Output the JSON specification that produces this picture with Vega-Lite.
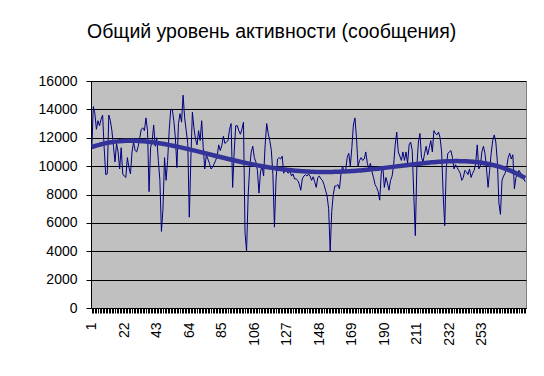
{
  "$schema": "https://vega.github.io/schema/vega-lite/v6.json",
  "width": 435,
  "height": 227,
  "autosize": "none",
  "padding": {"left": 91, "top": 81, "right": 18, "bottom": 68},
  "background": "white",
  "title": {
    "text": "Общий уровень активности (сообщения)",
    "font": "Liberation Sans",
    "fontSize": 19.5,
    "fontWeight": "normal",
    "color": "black",
    "anchor": "start",
    "frame": "group",
    "dx": -4,
    "baseline": "bottom",
    "offset": 13
  },
  "config": {
    "view": {"fill": "#C0C0C0", "stroke": "#808080", "strokeWidth": 1},
    "axis": {"labelFont": "Liberation Sans", "labelFontSize": 14, "labelColor": "black", "domainColor": "black", "tickColor": "black", "title": null, "labelOverlap": false}
  },
  "data": {"values": [
    {"i":1,"v":11200},{"i":2,"v":14200},{"i":3,"v":13700},{"i":4,"v":12600},{"i":5,"v":13200},{"i":6,"v":12850},{"i":7,"v":13300},{"i":8,"v":13600},{"i":9,"v":11300},{"i":10,"v":9400},
    {"i":11,"v":9450},{"i":12,"v":13600},{"i":13,"v":13200},{"i":14,"v":12500},{"i":15,"v":11400},{"i":16,"v":10300},{"i":17,"v":11600},{"i":18,"v":11000},{"i":19,"v":9800},{"i":20,"v":11300},
    {"i":21,"v":9450},{"i":22,"v":9300},{"i":23,"v":9200},{"i":24,"v":10600},{"i":25,"v":9900},{"i":26,"v":9450},{"i":27,"v":11000},{"i":28,"v":11700},{"i":29,"v":11100},{"i":30,"v":11000},
    {"i":31,"v":11400},{"i":32,"v":12000},{"i":33,"v":12600},{"i":34,"v":12700},{"i":35,"v":12500},{"i":36,"v":13400},{"i":37,"v":12500},{"i":38,"v":8200},{"i":39,"v":11300},{"i":40,"v":11800},
    {"i":41,"v":12900},{"i":42,"v":11400},{"i":43,"v":12000},{"i":44,"v":10400},{"i":45,"v":9000},{"i":46,"v":5400},{"i":47,"v":7000},{"i":48,"v":10600},{"i":49,"v":9000},{"i":50,"v":10400},
    {"i":51,"v":12500},{"i":52,"v":14000},{"i":53,"v":14000},{"i":54,"v":13200},{"i":55,"v":12000},{"i":56,"v":9900},{"i":57,"v":13000},{"i":58,"v":13700},{"i":59,"v":13100},{"i":60,"v":15000},
    {"i":61,"v":13400},{"i":62,"v":12500},{"i":63,"v":11600},{"i":64,"v":6400},{"i":65,"v":10500},{"i":66,"v":13800},{"i":67,"v":12700},{"i":68,"v":11900},{"i":69,"v":11500},{"i":70,"v":12500},
    {"i":71,"v":11800},{"i":72,"v":13200},{"i":73,"v":11300},{"i":74,"v":9800},{"i":75,"v":10800},{"i":76,"v":10500},{"i":77,"v":10200},{"i":78,"v":9800},{"i":79,"v":9900},{"i":80,"v":10150},
    {"i":81,"v":10400},{"i":82,"v":10700},{"i":83,"v":11500},{"i":84,"v":11100},{"i":85,"v":11450},{"i":86,"v":12100},{"i":87,"v":11600},{"i":88,"v":11700},{"i":89,"v":11800},{"i":90,"v":12600},
    {"i":91,"v":13000},{"i":92,"v":8500},{"i":93,"v":11000},{"i":94,"v":12850},{"i":95,"v":12850},{"i":96,"v":12500},{"i":97,"v":12250},{"i":98,"v":12600},{"i":99,"v":13100},{"i":100,"v":5300},
    {"i":101,"v":4000},{"i":102,"v":7900},{"i":103,"v":9900},{"i":104,"v":11000},{"i":105,"v":11400},{"i":106,"v":10600},{"i":107,"v":10300},{"i":108,"v":9700},{"i":109,"v":8100},{"i":110,"v":9600},
    {"i":111,"v":10000},{"i":112,"v":9300},{"i":113,"v":11500},{"i":114,"v":13000},{"i":115,"v":12300},{"i":116,"v":11800},{"i":117,"v":11100},{"i":118,"v":9400},{"i":119,"v":5700},{"i":120,"v":9000},
    {"i":121,"v":10500},{"i":122,"v":10600},{"i":123,"v":10500},{"i":124,"v":10700},{"i":125,"v":9500},{"i":126,"v":9800},{"i":127,"v":9600},{"i":128,"v":9500},{"i":129,"v":9700},{"i":130,"v":9300},
    {"i":131,"v":9450},{"i":132,"v":9100},{"i":133,"v":9100},{"i":134,"v":9000},{"i":135,"v":8750},{"i":136,"v":8300},{"i":137,"v":9100},{"i":138,"v":9300},{"i":139,"v":9400},{"i":140,"v":9300},
    {"i":141,"v":9450},{"i":142,"v":9300},{"i":143,"v":9000},{"i":144,"v":9250},{"i":145,"v":8900},{"i":146,"v":8500},{"i":147,"v":9200},{"i":148,"v":9300},{"i":149,"v":9100},{"i":150,"v":9000},
    {"i":151,"v":8700},{"i":152,"v":8300},{"i":153,"v":7900},{"i":154,"v":7000},{"i":155,"v":4000},{"i":156,"v":6800},{"i":157,"v":8000},{"i":158,"v":8600},{"i":159,"v":8600},{"i":160,"v":8700},
    {"i":161,"v":8400},{"i":162,"v":9500},{"i":163,"v":10000},{"i":164,"v":9600},{"i":165,"v":9700},{"i":166,"v":10600},{"i":167,"v":10900},{"i":168,"v":10000},{"i":169,"v":11300},{"i":170,"v":12900},
    {"i":171,"v":13400},{"i":172,"v":12000},{"i":173,"v":10000},{"i":174,"v":10400},{"i":175,"v":10600},{"i":176,"v":10400},{"i":177,"v":10500},{"i":178,"v":11000},{"i":179,"v":10200},{"i":180,"v":9800},
    {"i":181,"v":10200},{"i":182,"v":9600},{"i":183,"v":9200},{"i":184,"v":8700},{"i":185,"v":8500},{"i":186,"v":8200},{"i":187,"v":7600},{"i":188,"v":9500},{"i":189,"v":10000},{"i":190,"v":8500},
    {"i":191,"v":9200},{"i":192,"v":8800},{"i":193,"v":8300},{"i":194,"v":9000},{"i":195,"v":9300},{"i":196,"v":10100},{"i":197,"v":11500},{"i":198,"v":12400},{"i":199,"v":11000},{"i":200,"v":10700},
    {"i":201,"v":10400},{"i":202,"v":11000},{"i":203,"v":10400},{"i":204,"v":11000},{"i":205,"v":10200},{"i":206,"v":11500},{"i":207,"v":11700},{"i":208,"v":11100},{"i":209,"v":8000},{"i":210,"v":5100},
    {"i":211,"v":10000},{"i":212,"v":11700},{"i":213,"v":12300},{"i":214,"v":10600},{"i":215,"v":10300},{"i":216,"v":10900},{"i":217,"v":11400},{"i":218,"v":10800},{"i":219,"v":11300},{"i":220,"v":11800},
    {"i":221,"v":11000},{"i":222,"v":12500},{"i":223,"v":12300},{"i":224,"v":12200},{"i":225,"v":12400},{"i":226,"v":12000},{"i":227,"v":11000},{"i":228,"v":8000},{"i":229,"v":5800},{"i":230,"v":9900},
    {"i":231,"v":10900},{"i":232,"v":11000},{"i":233,"v":11100},{"i":234,"v":10600},{"i":235,"v":9800},{"i":236,"v":10100},{"i":237,"v":9900},{"i":238,"v":9700},{"i":239,"v":9500},{"i":240,"v":9000},
    {"i":241,"v":9200},{"i":242,"v":9700},{"i":243,"v":9600},{"i":244,"v":9400},{"i":245,"v":9800},{"i":246,"v":9200},{"i":247,"v":9500},{"i":248,"v":9700},{"i":249,"v":10200},{"i":250,"v":11500},
    {"i":251,"v":9800},{"i":252,"v":10000},{"i":253,"v":11000},{"i":254,"v":11400},{"i":255,"v":10900},{"i":256,"v":9800},{"i":257,"v":8500},{"i":258,"v":9700},{"i":259,"v":10900},{"i":260,"v":11800},
    {"i":261,"v":12200},{"i":262,"v":11700},{"i":263,"v":10300},{"i":264,"v":7400},{"i":265,"v":6600},{"i":266,"v":9000},{"i":267,"v":9300},{"i":268,"v":9500},{"i":269,"v":9900},{"i":270,"v":10600},
    {"i":271,"v":10900},{"i":272,"v":10500},{"i":273,"v":10800},{"i":274,"v":8400},{"i":275,"v":9200},{"i":276,"v":9400},{"i":277,"v":9700},{"i":278,"v":9500},{"i":279,"v":9400},{"i":280,"v":9100},
    {"i":281,"v":8900}
  ]},
  "layer": [
    {
      "mark": {"type": "line", "color": "#000080", "strokeWidth": 1, "interpolate": "linear"},
      "encoding": {
        "x": {"field": "i", "type": "quantitative",
          "scale": {"domain": [0.5, 281.5], "nice": false, "zero": false},
          "axis": {"orient": "bottom", "values": [1, 22, 43, 64, 85, 106, 127, 148, 169, 190, 211, 232, 253], "labelAngle": -90, "ticks": false, "domain": true, "domainWidth": 1, "grid": false, "labelPadding": 14, "labelFlush": false, "format": "d"}},
        "y": {"field": "v", "type": "quantitative",
          "scale": {"domain": [0, 16000], "nice": false},
          "axis": {"values": [0, 2000, 4000, 6000, 8000, 10000, 12000, 14000, 16000], "format": "d", "grid": true, "gridColor": "black", "gridWidth": 1, "gridOpacity": 1, "tickSize": 5, "labelPadding": 9, "labelFlush": false}}
      }
    },
    {
      "transform": [{"regression": "v", "on": "i", "method": "poly", "order": 4}],
      "mark": {"type": "line", "color": "#333399", "strokeWidth": 4.5},
      "encoding": {
        "x": {"field": "i", "type": "quantitative",
          "axis": {"orient": "bottom", "tickCount": 281, "labels": false, "domain": false, "grid": false, "ticks": true, "tickSize": 5, "tickWidth": 1}},
        "y": {"field": "v", "type": "quantitative",
          "axis": {"values": [0, 2000, 4000, 6000, 8000, 10000, 12000, 14000, 16000], "format": "d", "grid": true, "gridColor": "black", "gridWidth": 1, "gridOpacity": 1, "tickSize": 5, "labelPadding": 9, "labelFlush": false}}
      }
    }
  ],
  "resolve": {"axis": {"x": "independent"}}
}
